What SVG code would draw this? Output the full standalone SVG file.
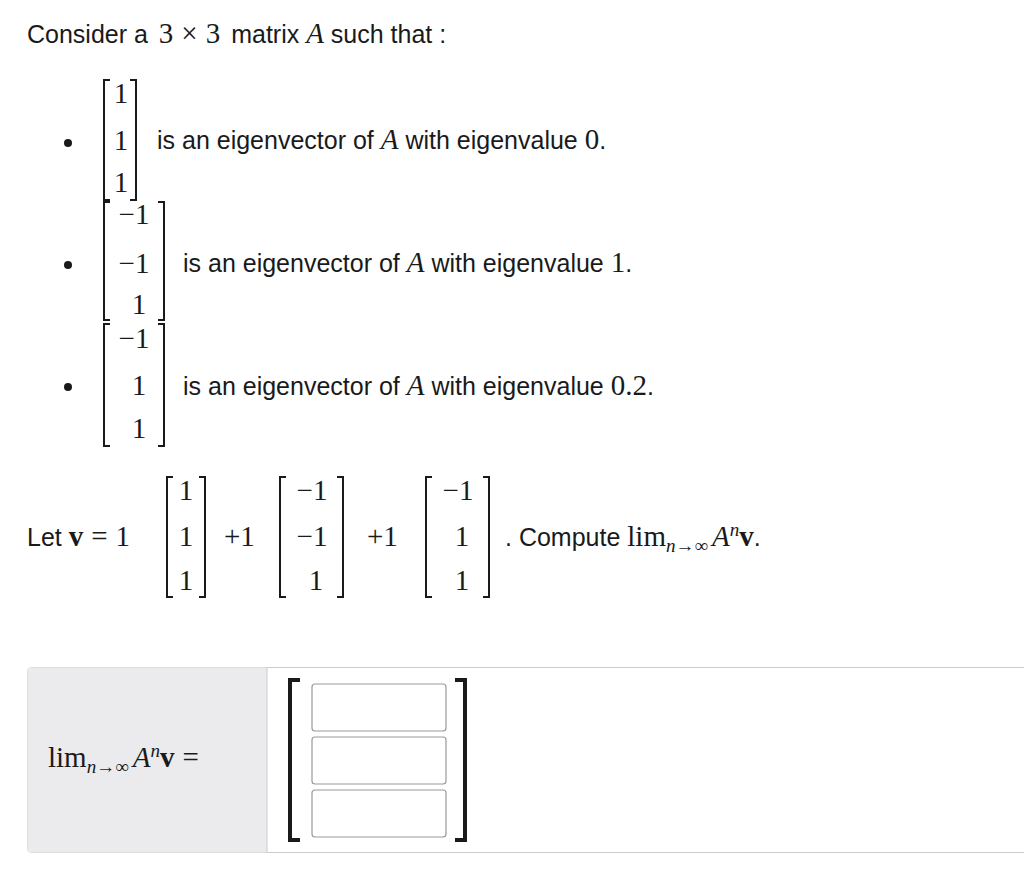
<svg xmlns="http://www.w3.org/2000/svg" width="1024" height="894" viewBox="0 0 1024 894">
<style>
.t{font-family:"Liberation Sans",Arial,sans-serif;font-size:25px;fill:#1a1a1a}
.m{font-family:"Liberation Serif","Times New Roman",serif;font-size:29px;fill:#1a1a1a}
.i{font-style:italic}
.s{font-size:19px}
.b{fill:none;stroke:#1a1a1a;stroke-width:2}
.box{fill:#fff;stroke:#999;stroke-width:1.2}
</style>
<rect width="1024" height="894" fill="#fff"/>
<text class="t" x="27" y="43">Consider a <tspan class="m" dx="4">3</tspan><tspan class="m" dx="8">×</tspan><tspan class="m" dx="8">3</tspan><tspan dx="4"> matrix </tspan><tspan class="m i">A</tspan> such that :</text>
<g id="bullets" fill="#1a1a1a"><circle cx="68" cy="143" r="4"/><circle cx="68" cy="265" r="4"/><circle cx="68" cy="387" r="4"/></g>
<g id="m1">
<path class="b" d="M110,80 H104 V200 H110 M130,80 H136 V200 H130"/>
<text class="m" x="121" y="103" text-anchor="middle">1</text>
<text class="m" x="121" y="150" text-anchor="middle">1</text>
<text class="m" x="121" y="192" text-anchor="middle">1</text>
<text class="t" x="157" y="149">is an eigenvector of <tspan class="m i">A</tspan> with eigenvalue <tspan class="m">0</tspan>.</text>
</g>
<g id="m2">
<path class="b" d="M110,202 H104 V320 H110 M158,202 H164 V320 H158"/>
<text class="m" x="134" y="224" text-anchor="middle">−1</text>
<text class="m" x="134" y="273" text-anchor="middle">−1</text>
<text class="m" x="139" y="314" text-anchor="middle">1</text>
<text class="t" x="183" y="272">is an eigenvector of <tspan class="m i">A</tspan> with eigenvalue <tspan class="m">1</tspan>.</text>
</g>
<g id="m3">
<path class="b" d="M110,324 H104 V446 H110 M158,324 H164 V446 H158"/>
<text class="m" x="134" y="348" text-anchor="middle">−1</text>
<text class="m" x="139" y="395" text-anchor="middle">1</text>
<text class="m" x="139" y="438" text-anchor="middle">1</text>
<text class="t" x="183" y="395">is an eigenvector of <tspan class="m i">A</tspan> with eigenvalue <tspan class="m">0.2</tspan>.</text>
</g>
<g id="letline">
<text class="t" x="27" y="546">Let <tspan class="m" font-weight="bold">v</tspan><tspan class="m" dx="8">=</tspan><tspan class="m" dx="8">1</tspan></text>
<path class="b" d="M173,477 H167 V597 H173 M199,477 H205 V597 H199"/>
<text class="m" x="186" y="500" text-anchor="middle">1</text>
<text class="m" x="186" y="546" text-anchor="middle">1</text>
<text class="m" x="186" y="590" text-anchor="middle">1</text>
<text class="m" x="224" y="546">+1</text>
<path class="b" d="M286,477 H280 V597 H286 M337,477 H343 V597 H337"/>
<text class="m" x="312" y="500" text-anchor="middle">−1</text>
<text class="m" x="312" y="546" text-anchor="middle">−1</text>
<text class="m" x="316" y="590" text-anchor="middle">1</text>
<text class="m" x="367" y="546">+1</text>
<path class="b" d="M432,477 H426 V597 H432 M483,477 H489 V597 H483"/>
<text class="m" x="458" y="500" text-anchor="middle">−1</text>
<text class="m" x="462" y="546" text-anchor="middle">1</text>
<text class="m" x="462" y="590" text-anchor="middle">1</text>
<text class="t" x="505" y="546">. Compute <tspan class="m">lim</tspan><tspan class="m i s" dy="6">n</tspan><tspan class="m s">→∞</tspan><tspan class="m i" dy="-6" dx="4">A</tspan><tspan class="m i s" dy="-10">n</tspan><tspan class="m" font-weight="bold" dy="10">v</tspan>.</text>
</g>
<g id="answer">
<rect x="27.5" y="667.5" width="1010" height="185" rx="4" fill="#fff" stroke="#ccc"/>
<path d="M31.5,667.5 H267 V852.5 H31.5 A4,4 0 0 1 27.5,848.5 V671.5 A4,4 0 0 1 31.5,667.5Z" fill="#ebebed"/>
<line x1="267" y1="668" x2="267" y2="852" stroke="#ccc"/>
<text class="m" x="48" y="767">lim<tspan class="i s" dy="6">n</tspan><tspan class="s">→∞</tspan><tspan class="i" dy="-6" dx="4">A</tspan><tspan class="i s" dy="-10">n</tspan><tspan font-weight="bold" dy="10">v</tspan><tspan dx="8">=</tspan></text>
<path fill="none" stroke="#1a1a1a" stroke-width="4" d="M300,680 H290 V840 H300 M455,680 H465 V840 H455"/>
<rect class="box" x="312" y="684" width="134" height="47" rx="3"/>
<rect class="box" x="312" y="737" width="134" height="47" rx="3"/>
<rect class="box" x="312" y="790" width="134" height="47" rx="3"/>
</g>
</svg>
